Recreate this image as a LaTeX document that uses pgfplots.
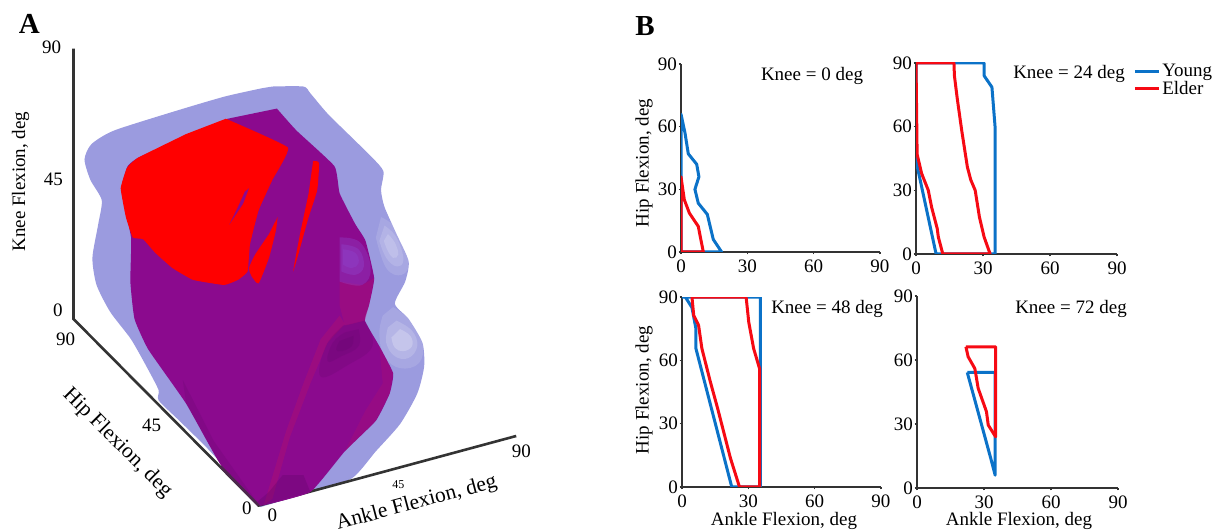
\documentclass[border=0pt]{standalone}
\usepackage{pgfplots}
\usepackage{fontspec}
\setmainfont{Liberation Serif}
\pgfplotsset{compat=1.18}
\definecolor{outer}{HTML}{9B9BDF}
\definecolor{purp}{HTML}{8B0A8E}
\definecolor{yng}{HTML}{0B72C8}
\definecolor{eld}{HTML}{F60A14}
\definecolor{axc}{HTML}{333333}
\definecolor{hviolet}{HTML}{9050D8}
\definecolor{hfold}{HTML}{B01070}
\definecolor{hdark}{HTML}{5E0668}
\newcommand\fs[1]{\fontsize{#1}{#1}\selectfont}
\newcommand\T[4][]{\node[#1] at ({#2*1pt},{(532-#3)*1pt}) {#4};}
\pgfplotsset{
  panel/.style={
    anchor=origin, scale only axis, clip=true,
    xmin=0,xmax=90,ymin=0,ymax=90,
    axis x line=bottom, axis y line=left,
    axis line style={line width=2pt,axc,-},
    xtick={0,30,60,90}, ytick={0,30,60,90},
    tick style={line width=1.5pt,axc},
    tick align=outside, major tick length=2.5pt,
    /pgf/number format/assume math mode=true,
    tick label style={font=\fs{19}},
    xticklabel style={yshift=-2pt},
    yticklabel style={xshift=2pt},
  },
  y/.style={yng,line width=3pt,line join=round},
  e/.style={eld,line width=3pt,line join=round},
  blob/.style={draw=none,smooth,tension=.7,fill=#1},
}
\begin{document}
\begin{tikzpicture}
\useasboundingbox (0,0) rectangle (1219pt,532pt);
% ---------- Panel A
\begin{axis}[at={(0,0)},anchor=south west,scale only axis,width=1219pt,height=532pt,
  hide axis,clip=false,xmin=0,xmax=3535,ymin=0,ymax=1568,y dir=reverse]
\addplot[draw=none,fill=outer,smooth,tension=.4] coordinates {(790,255)(880,255)(900,275)(950,335)(1020,405)(1080,465)(1112,505)(1105,560)(1115,610)(1150,690)(1185,770)(1175,830)(1145,895)(1185,940)(1225,1010)(1230,1080)(1210,1160)(1160,1250)(1090,1330)(1020,1410)(900,1450)(770,1490)(750,1490)(690,1420)(600,1320)(520,1240)(460,1180)(460,1150)(430,1090)(380,1000)(320,920)(280,840)(268,760)(285,660)(295,590)(262,530)(245,470)(265,425)(330,385)(500,330)(650,285)(760,260)} --cycle;
% highlights on the outer shell
\addplot[blob=white,fill opacity=.12] coordinates {(1105,640)(1155,680)(1185,770)(1165,810)(1120,790)(1090,700)} --cycle;
\addplot[blob=white,fill opacity=.14] coordinates {(1115,665)(1150,700)(1170,765)(1150,785)(1120,760)(1100,710)} --cycle;
\addplot[blob=white,fill opacity=.16] coordinates {(1125,690)(1145,715)(1155,750)(1140,760)(1125,740)(1113,710)} --cycle;
\addplot[blob=white,fill opacity=.12] coordinates {(1140,905)(1190,945)(1225,1010)(1215,1070)(1160,1085)(1115,1050)(1100,985)(1110,930)} --cycle;
\addplot[blob=white,fill opacity=.16] coordinates {(1150,945)(1195,975)(1210,1020)(1185,1055)(1145,1050)(1120,1010)(1125,965)} --cycle;
\addplot[blob=white,fill opacity=.22] coordinates {(1160,970)(1190,990)(1195,1020)(1170,1035)(1145,1025)(1135,995)} --cycle;
% axes
\addplot[axc,line width=2.6pt] coordinates {(213,143)(213,940)(750,1490)(1497,1285)};
\addplot[draw=none,fill=purp,smooth,tension=.25] coordinates {(803,320)(860,385)(970,490)(985,570)(1030,660)(1060,710)(1085,820)(1070,900)(1058,945)(1100,1020)(1140,1100)(1130,1160)(1090,1240)(1000,1330)(900,1450)(760,1490)(745,1480)(640,1370)(540,1190)(430,1030)(390,940)(378,830)(380,700)(352,560)(370,490)(410,460)(660,350)} --cycle;
% shading of the inner shell
\addplot[draw=none,fill=hfold,fill opacity=.4] coordinates {(985,830)(1050,840)(1085,820)(1070,900)(1058,945)(1000,960)(985,900)} --cycle;
\addplot[draw=none,fill=hfold,fill opacity=.45] coordinates {(1000,955)(950,1010)(900,1130)(840,1290)(790,1470)(765,1488)(830,1270)(880,1130)(930,1000)(985,930)} --cycle;
\addplot[blob=hviolet,fill opacity=.3] coordinates {(985,700)(1045,715)(1075,790)(1050,840)(985,830)} --cycle;
\addplot[blob=hviolet,fill opacity=.3] coordinates {(990,720)(1040,735)(1055,785)(1030,810)(990,800)} --cycle;
\addplot[blob=hviolet,fill opacity=.25] coordinates {(995,735)(1030,745)(1040,775)(1020,790)(995,780)} --cycle;
\addplot[blob=hdark,fill opacity=.2] coordinates {(1058,945)(1080,1020)(1010,1075)(930,1110)(945,1020)(995,960)} --cycle;
\addplot[blob=hdark,fill opacity=.2] coordinates {(1040,970)(1040,1020)(990,1050)(950,1065)(965,1010)(1000,980)} --cycle;
\addplot[blob=hdark,fill opacity=.2] coordinates {(1025,990)(1020,1020)(990,1035)(975,1030)(985,1005)} --cycle;
\addplot[draw=none,fill=hfold,fill opacity=.3] coordinates {(1100,1020)(1140,1100)(1130,1160)(1090,1240)(1000,1330)(1060,1210)(1110,1130)} --cycle;
\addplot[draw=none,fill=hdark,fill opacity=.3] coordinates {(745,1480)(760,1490)(900,1450)(880,1400)(820,1400)(780,1450)} --cycle;
\addplot[draw=none,fill=hdark,fill opacity=.2] coordinates {(530,1120)(620,1300)(745,1480)(640,1370)(540,1190)} --cycle;
\addplot[axc!70!purp,line width=2.6pt] coordinates {(640,1375)(750,1490)};
% red cuts
\addplot[draw=none,fill=red,smooth,tension=.2] coordinates {(655,350)(835,435)(790,530)(750,620)(725,720)(718,800)(690,825)(650,840)(560,825)(500,790)(450,745)(415,705)(385,700)(365,640)(350,555)(368,495)(400,465)(540,395)} --cycle;
\addplot[draw=none,fill=purp] coordinates {(722,555)(705,600)(665,662)(690,610)(710,565)} --cycle;
\addplot[draw=none,fill=red,smooth,tension=.3] coordinates {(805,640)(800,680)(780,760)(750,835)(730,815)(722,790)(740,750)(780,690)} --cycle;
\addplot[draw=none,fill=red,smooth,tension=.3] coordinates {(908,475)(925,480)(920,560)(895,640)(865,750)(850,800)(870,690)(895,570)} --cycle;
% texts of panel A
\node[font=\fs{29}\bfseries] at (axis cs:85,70) {A};
\node[font=\fs{19}] at (axis cs:150,140) {90};
\node[font=\fs{19}] at (axis cs:155,530) {45};
\node[font=\fs{19}] at (axis cs:168,915) {0};
\node[font=\fs{19},rotate=90] at (axis cs:60,535) {Knee Flexion, deg};
\node[font=\fs{19}] at (axis cs:190,1000) {90};
\node[font=\fs{19}] at (axis cs:440,1255) {45};
\node[font=\fs{19}] at (axis cs:716,1497) {0};
\node[font=\fs{19}] at (axis cs:790,1518) {0};
\node[font=\fs{12}] at (axis cs:1155,1428) {45};
\node[font=\fs{19}] at (axis cs:1512,1330) {90};
\node[font=\fs{21.5},rotate=-45] at (axis cs:340,1305) {Hip Flexion, deg};
\node[font=\fs{21.5},rotate=15] at (axis cs:1208,1484) {Ankle Flexion, deg};
\end{axis}
% ---------- Panel B
\begin{axis}[panel,at={(681pt,280pt)},width=199pt,height=188pt]
\addplot[y] coordinates {(0,0)(0,66)(1.8,57)(3.3,47)(7.1,42)(8.1,36)(6.3,30)(7.8,23.4)(11.9,18)(14.6,6)(18.4,0)(0,0)};
\addplot[e] coordinates {(0,0)(0,36)(1.5,25)(3.8,18.6)(7.8,12.3)(10.1,0)(0,0)};
\end{axis}
\begin{axis}[panel,at={(916pt,278pt)},width=201pt,height=191pt,
  legend style={at={(1.08,1.004)},anchor=north west,draw=none,fill=none,inner sep=0pt,font=\fs{19},
    row sep=-1.5pt,/tikz/every even column/.append style={column sep=0pt}},
  legend cell align=left,
  legend image code/.code={\draw[#1] (0pt,0pt) -- (24pt,0pt);}]
\addplot[y] coordinates {(0,90)(30.5,90)(30.5,84)(34,78.6)(35.4,60)(35.4,0)(9,0)(0,44)(0,90)};
\addplot[e] coordinates {(0,90)(17,90)(17.2,84)(18.5,73)(20.5,58)(23,41)(24.5,35)(26.5,30)(28.4,17.4)(30.5,8)(33.2,0)(12,0)(10,8)(9.5,12)(7,22)(5.5,30)(2.5,38)(0.5,47)(0,90)};
\legend{Young,Elder}
\end{axis}
\begin{axis}[panel,at={(682pt,45pt)},width=199pt,height=190pt]
\addplot[y] coordinates {(0,90)(35.4,90)(35.4,0)(22.5,0)(6.3,65.6)(6.3,75)(4.5,85)(1.5,90)};
\addplot[e] coordinates {(4.5,90)(29,90)(30.2,78)(32.4,65.6)(35.1,56)(35.1,0)(26,0)(21.9,13.7)(18.8,26.3)(16.1,37.3)(12.8,49.9)(9,65.6)(7.5,76.6)(5.3,81.3)(4.5,90)};
\end{axis}
\begin{axis}[panel,at={(917pt,44pt)},width=201pt,height=192pt]
\addplot[y] coordinates {(22.5,54.2)(35,54.2)(35,6)(33,14)(22.5,54.2)};
\addplot[e] coordinates {(21.9,66.2)(35.2,66.2)(35.2,24)(31.9,29.5)(31.1,35.8)(27.4,46.7)(25.9,56)(22.9,61.5)(21.9,66.2)};
\end{axis}
\T[font=\fs{29}\bfseries]{645}{26}{B}
\T[font=\fs{19}]{812}{76}{Knee = 0 deg}
\T[font=\fs{19}]{1069}{74}{Knee = 24 deg}
\T[font=\fs{19}]{827}{309}{Knee = 48 deg}
\T[font=\fs{19}]{1071}{309}{Knee = 72 deg}
\T[font=\fs{19},rotate=90]{644}{163}{Hip Flexion, deg}
\T[font=\fs{19},rotate=90]{644}{390}{Hip Flexion, deg}
\T[font=\fs{19}]{784}{521}{Ankle Flexion, deg}
\T[font=\fs{19}]{1019}{521}{Ankle Flexion, deg}
\end{tikzpicture}
\end{document}
